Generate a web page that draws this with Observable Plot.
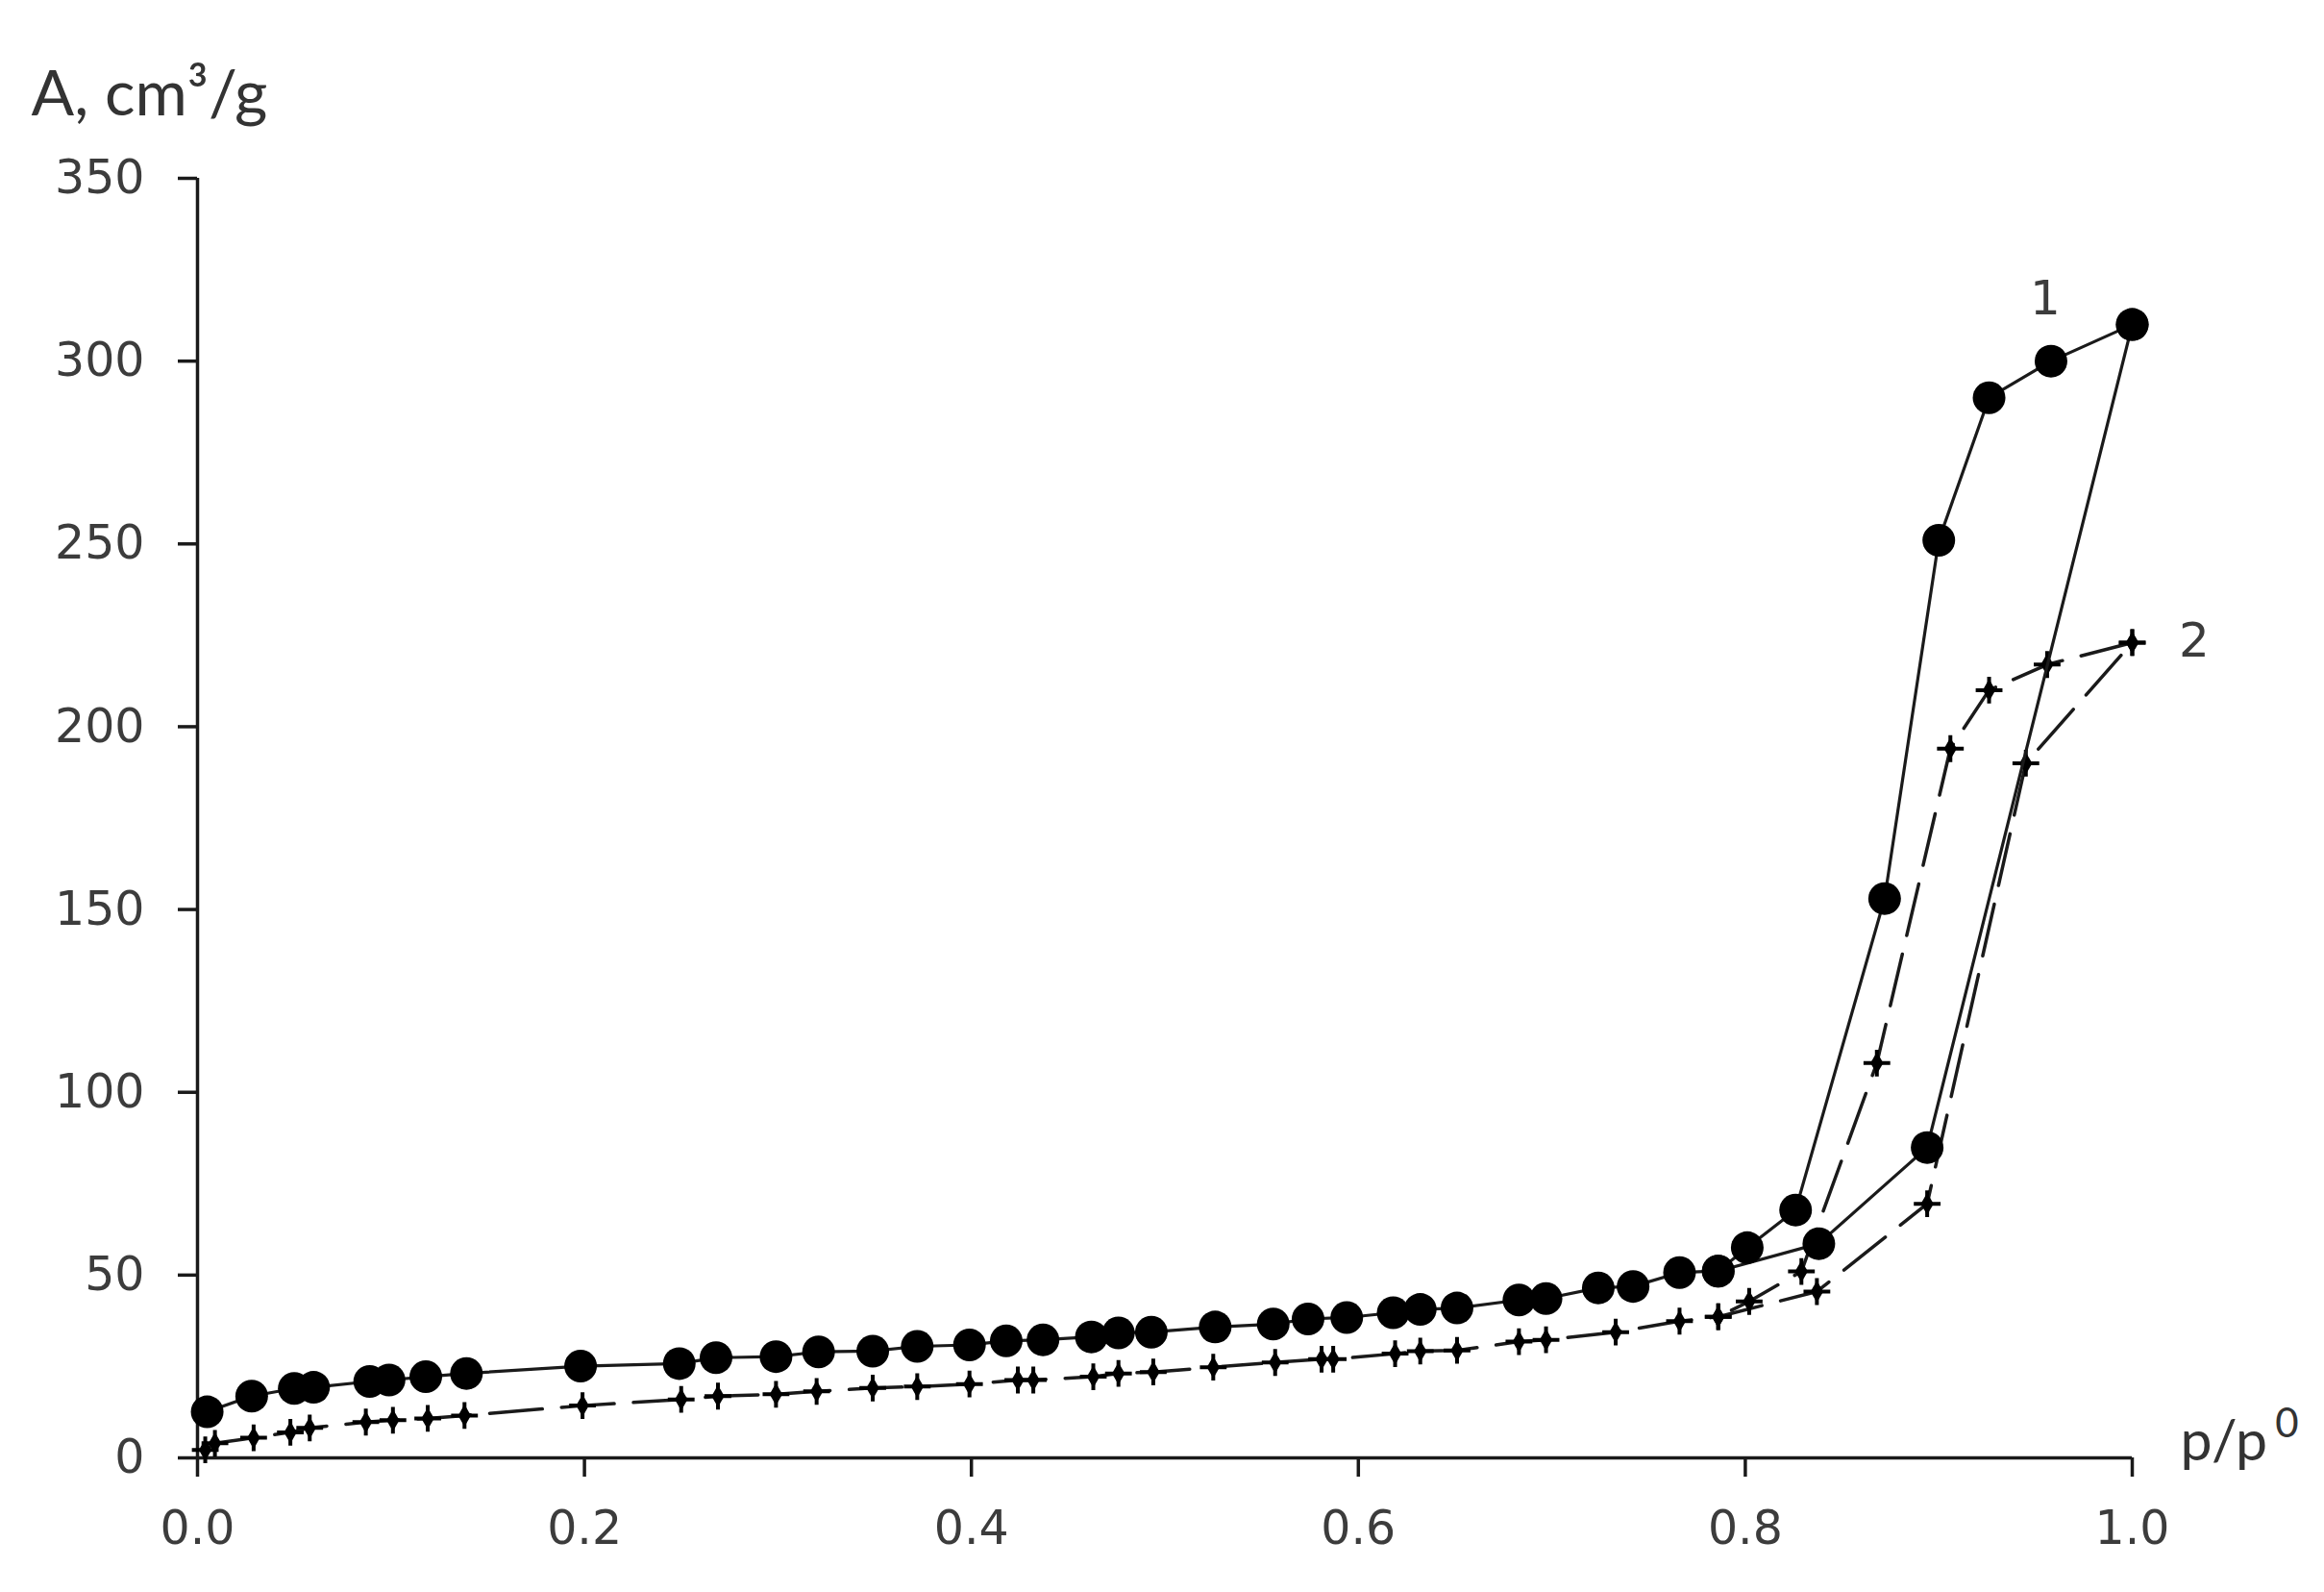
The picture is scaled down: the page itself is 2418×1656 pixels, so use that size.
<!DOCTYPE html>
<html>
<head>
<meta charset="utf-8">
<script src="https://cdn.jsdelivr.net/npm/d3@7"></script>
<script src="https://cdn.jsdelivr.net/npm/@observablehq/plot@0.6"></script>
<style>
  html, body { margin: 0; padding: 0; background: #fff; }
  #chart svg { display: block; }
</style>
</head>
<body>
<div id="chart"></div>
<script>
// Curve 1 (filled circles, solid line) – adsorption branch
const s1AdsP = [0.005,0.028,0.050,0.060,0.089,0.099,0.118,0.139,0.198,0.249,0.268,0.299,0.321,0.349,0.372,0.399,0.418,0.437,0.462,0.476,0.493,0.526,0.556,0.574,0.594,0.618,0.632,0.651,0.683,0.697,0.724,0.742,0.766,0.786,0.838,0.894,1.000];
const s1AdsA = [12.6,16.9,19.0,19.3,20.9,21.3,22.2,23.1,25.1,25.8,27.4,27.7,29.0,29.2,30.5,30.9,32.0,32.3,33.1,34.2,34.4,35.8,36.6,38.0,38.4,39.7,40.6,41.0,43.2,43.6,46.5,46.9,50.7,51.1,58.6,84.9,310];
// Curve 1 – desorption branch
const s1DesP = [1.000,0.958,0.926,0.900,0.872,0.826,0.801,0.786];
const s1DesA = [310,300,290,251,153,67.8,57.5,51.1];

// Curve 2 (crosses, dashed line) – adsorption branch
const s2AdsP = [0.004,0.009,0.029,0.048,0.058,0.087,0.101,0.119,0.138,0.199,0.250,0.269,0.299,0.320,0.349,0.372,0.399,0.424,0.432,0.463,0.476,0.494,0.525,0.557,0.581,0.587,0.619,0.632,0.651,0.683,0.697,0.733,0.766,0.786,0.837,0.894,0.945,1.000];
const s2AdsA = [2.2,4.0,5.5,7.0,8.2,9.8,10.3,10.8,11.6,14.3,16.0,16.9,17.4,18.2,19.1,19.5,20.2,21.3,21.3,22.2,23.1,23.5,24.8,26.1,27.0,27.0,28.5,29.2,29.4,31.8,32.3,34.4,37.4,38.6,45.5,69.5,190,223];
// Curve 2 – desorption branch
const s2DesP = [1.000,0.956,0.926,0.906,0.868,0.829,0.802,0.786];
const s2DesA = [223,217,210,194,108,51.0,42.8,38.6];

const xTicks = [0, 0.2, 0.4, 0.6, 0.8, 1.0];
const yTicks = [0, 50, 100, 150, 200, 250, 300, 350];
const curveLabels = ["1", "2"];
const curveLabelP = [0.955, 1.032];
const curveLabelA = [317, 223.5];
const yTitle = "A, cm³/g";
const xTitle = "p/p";
const xTitleSup = "0";

const toRows = (P, A) => P.map((p, i) => ({p, a: A[i]}));
const s1Ads = toRows(s1AdsP, s1AdsA);
const s1Des = toRows(s1DesP, s1DesA);
const s2Ads = toRows(s2AdsP, s2AdsA);
const s2Des = toRows(s2DesP, s2DesA);
const s1All = s1Ads.concat(s1Des);
const s2All = s2Ads.concat(s2Des);
const labels = curveLabels.map((t, i) => ({t, p: curveLabelP[i], a: curveLabelA[i]}));

const ink = "#1a1a1a";
const textGray = "#3c3c3c";
const titleFont = "Lato, 'Open Sans', sans-serif";

const chart = Plot.plot({
  width: 2418,
  height: 1656,
  marginLeft: 205,
  marginRight: 200,
  marginTop: 185,
  marginBottom: 140,
  x: {domain: [0, 1]},
  y: {domain: [0, 350]},
  style: {fontFamily: "'DejaVu Sans', Verdana, sans-serif", fontSize: "48px", background: "#fff", color: textGray},
  marks: [
    Plot.axisY({ticks: yTicks, tickSize: 20, tickPadding: 35, label: null, stroke: ink, strokeWidth: 3.5, fill: textGray, fontSize: 49}),
    Plot.axisX({ticks: xTicks, tickSize: 20, tickPadding: 35, tickFormat: d3.format(".1f"), label: null, stroke: ink, strokeWidth: 3.5, fill: textGray, fontSize: 49}),
    Plot.ruleX([0], {stroke: ink, strokeWidth: 3.5}),
    Plot.ruleY([0], {stroke: ink, strokeWidth: 3.5}),
    // curve 2
    Plot.line(s2Ads, {x: "p", y: "a", stroke: ink, strokeWidth: 3.5, strokeDasharray: "55,20"}),
    Plot.line(s2Des, {x: "p", y: "a", stroke: ink, strokeWidth: 3.5, strokeDasharray: "55,20"}),
    Plot.dot(s2All, {x: "p", y: "a", symbol: "diamond", r: 7, fill: "#000"}),
    Plot.dot(s2All, {x: "p", y: "a", symbol: "plus", r: 9, stroke: "#000", strokeWidth: 4, fill: "none"}),
    // curve 1
    Plot.line(s1Ads, {x: "p", y: "a", stroke: ink, strokeWidth: 3.2}),
    Plot.line(s1Des, {x: "p", y: "a", stroke: ink, strokeWidth: 3.2}),
    Plot.dot(s1All, {x: "p", y: "a", r: 17, fill: "#000"}),
    // curve labels
    Plot.text(labels, {x: "p", y: "a", text: "t", fontSize: 50, fill: textGray}),
    // axis titles
    Plot.text([yTitle], {text: d => d, frameAnchor: "top-left", dx: -173, dy: -112, textAnchor: "start", fontFamily: titleFont, fontSize: 66, fill: "#333"}),
    Plot.text([xTitle], {text: d => d, frameAnchor: "bottom-right", dx: 50, dy: 2, textAnchor: "start", fontFamily: titleFont, fontSize: 59, fill: "#333"}),
    Plot.text([xTitleSup], {text: d => d, frameAnchor: "bottom-right", dx: 161, dy: -22, textAnchor: "middle", fontFamily: titleFont, fontSize: 42, fill: "#333"})
  ]
});
document.getElementById("chart").appendChild(chart);
</script>
</body>
</html>
